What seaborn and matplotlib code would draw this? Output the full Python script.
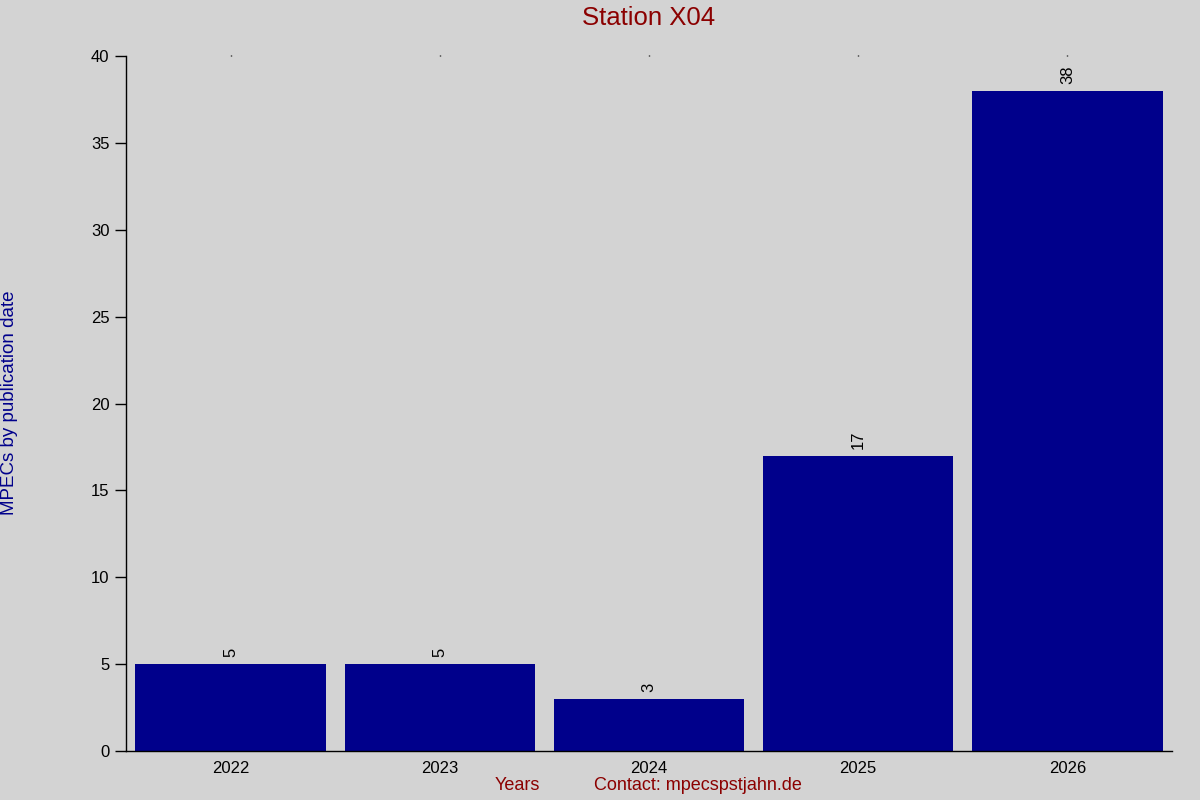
import numpy as np
import pandas as pd
import matplotlib
matplotlib.use('Agg')
import matplotlib.pyplot as plt
import seaborn as sns

years = ['2022', '2023', '2024', '2025', '2026']
mpecs = [5, 5, 3, 17, 38]

BG = '#d3d3d3'
BAR = '#00008b'
RED = '#8b0000'

sns.set_style('ticks')
plt.rcParams['font.family'] = ['Liberation Sans', 'DejaVu Sans']

df = pd.DataFrame({'Year': years, 'MPECs': mpecs})

fig = plt.figure(figsize=(12, 8), dpi=100, facecolor=BG)
ax = fig.add_axes([126/1200, 1 - 751/800, (1172-126)/1200, (751-56)/800])
ax.set_facecolor(BG)

sns.barplot(data=df, x='Year', y='MPECs', color=BAR, saturation=1, width=0.91,
            linewidth=0, edgecolor=BAR, ax=ax)

ax.set_xlim(-0.5, 4.5)
ax.set_ylim(0, 40)
ax.set_yticks(np.arange(0, 41, 5))
ax.set_xlabel('')
ax.set_ylabel('')
for s in ['top', 'right']:
    ax.spines[s].set_visible(False)
for s in ['left', 'bottom']:
    ax.spines[s].set_color('black')
    ax.spines[s].set_linewidth(1)
ax.tick_params(axis='y', length=8, width=1, labelsize=12, colors='black', pad=4)
ax.tick_params(axis='x', bottom=False, top=True, length=1, width=1, labelsize=12,
               colors='black', labelbottom=True, pad=6)

for i, v in enumerate(mpecs):
    ax.annotate(str(v), (i, v), xytext=(0, 5), textcoords='offset points',
                rotation=90, ha='center', va='bottom', fontsize=12, color='black')

fig.text(649/1200, 1 - 18/800, 'Station X04', ha='center', va='center', fontsize=18.5, color=RED)
fig.text(10/1200, 1 - 403/800, 'MPECs by publication date', rotation=90,
         ha='center', va='center', fontsize=13.5, color=BAR)
fig.text(517/1200, 1 - 786/800, 'Years', ha='center', va='center', fontsize=13, color=RED)
fig.text(698/1200, 1 - 786/800, 'Contact: mpecspstjahn.de', ha='center', va='center',
         fontsize=13, color=RED)

fig.savefig('out.png', dpi=100, facecolor=BG)
